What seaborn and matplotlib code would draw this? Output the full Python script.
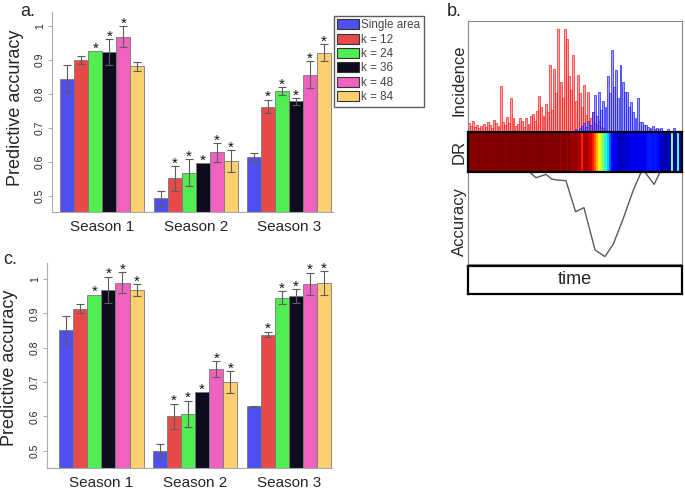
import numpy as np
import pandas as pd
import seaborn as sns
import matplotlib.pyplot as plt

models = ["Single area", "k = 12", "k = 24", "k = 36", "k = 48", "k = 84"]
seasons = ["Season 1", "Season 2", "Season 3"]
colors = ["#5050f0", "#e84a4a", "#50ee50", "#0c0c1e", "#f062c0", "#fcd070"]

# panel a: accuracy per season (one value per model), error, significance star
acc_a_s1 = [0.845, 0.900, 0.926, 0.923, 0.969, 0.881]
acc_a_s2 = [0.493, 0.552, 0.569, 0.596, 0.628, 0.603]
acc_a_s3 = [0.616, 0.763, 0.809, 0.778, 0.857, 0.921]
err_a_s1 = [0.040, 0.013, 0.0, 0.039, 0.031, 0.014]
err_a_s2 = [0.021, 0.036, 0.040, 0.0, 0.027, 0.032]
err_a_s3 = [0.010, 0.020, 0.011, 0.009, 0.040, 0.025]
star_a_s1 = [0, 0, 1, 1, 1, 0]
star_a_s2 = [0, 1, 1, 1, 1, 1]
star_a_s3 = [0, 1, 1, 1, 1, 1]

# panel c
acc_c_s1 = [0.852, 0.913, 0.954, 0.968, 0.989, 0.967]
acc_c_s2 = [0.500, 0.600, 0.607, 0.671, 0.738, 0.700]
acc_c_s3 = [0.629, 0.838, 0.945, 0.950, 0.986, 0.987]
err_c_s1 = [0.040, 0.013, 0.0, 0.039, 0.030, 0.017]
err_c_s2 = [0.019, 0.037, 0.039, 0.0, 0.022, 0.032]
err_c_s3 = [0.002, 0.008, 0.019, 0.020, 0.032, 0.035]
star_c_s1 = [0, 0, 1, 1, 1, 1]
star_c_s2 = [0, 1, 1, 1, 1, 1]
star_c_s3 = [0, 1, 1, 1, 1, 1]

# panel b: incidence of two regions over 100 time steps (percent of frame height)
inc_red = [8, 5, 10, 4, 6, 3, 5, 7, 4, 9, 6, 3, 11, 8, 5, 41, 9, 6, 13, 8,
           30, 12, 5, 7, 12, 10, 4, 12, 7, 14, 16, 10, 19, 32, 22, 14, 25, 18, 60, 20,
           57, 35, 93, 45, 30, 93, 84, 50, 38, 69, 28, 51, 35, 22, 42, 15, 36, 12, 18, 8,
           6, 10, 4, 3, 0, 0, 0, 0, 0, 0, 0, 0, 0, 0, 0, 0, 0, 0, 0, 0,
           0, 0, 0, 0, 0, 0, 0, 0, 0, 0, 0, 0, 0, 0, 0, 0, 0, 0, 0, 0]
inc_blue = [0, 0, 0, 0, 0, 0, 0, 0, 0, 0, 0, 0, 0, 0, 0, 0, 0, 0, 0, 0,
            0, 0, 0, 0, 0, 0, 0, 0, 0, 0, 0, 0, 0, 0, 0, 0, 0, 0, 0, 0,
            0, 0, 0, 0, 0, 0, 0, 0, 0, 0, 2, 0, 3, 5, 8, 4, 10, 6, 18, 33,
            14, 36, 20, 28, 22, 50, 35, 74, 40, 56, 30, 60, 45, 36, 36, 22, 27, 18, 12, 30,
            9, 9, 6, 6, 4, 3, 5, 2, 3, 2, 3, 1, 0, 2, 0, 0, 3, 0, 0, 0]
dr_values = [1.0, 1.0, 0.99, 1.0, 1.0, 1.0, 0.99, 1.0, 1.0, 1.0, 1.0, 0.99, 1.0, 1.0, 1.0, 1.0, 1.0, 0.99, 1.0, 1.0,
             1.0, 1.0, 1.0, 0.99, 1.0, 1.0, 1.0, 1.0, 1.0, 0.99, 1.0, 1.0, 1.0, 1.0, 1.0, 1.0, 0.99, 1.0, 1.0, 1.0,
             0.99, 1.0, 1.0, 0.98, 1.0, 1.0, 0.98, 1.0, 0.98, 0.97, 0.98, 0.97, 0.97, 0.88, 0.96, 0.97, 0.95, 0.92, 0.88, 0.8,
             0.72, 0.65, 0.58, 0.5, 0.4, 0.33, 0.22, 0.13, 0.1, 0.09, 0.07, 0.06, 0.06, 0.08, 0.06, 0.09, 0.1, 0.1, 0.09, 0.1,
             0.12, 0.1, 0.09, 0.13, 0.15, 0.15, 0.14, 0.15, 0.14, 0.12, 0.07, 0.05, 0.04, 0.05, 0.05, 0.52, 0.05, 0.04, 0.45, 0.05]
acc_time = [26.4, 31.5, 36.2, 38.8, 41.5, 45.5, 50.0, 53.9, 59.1, 63.7, 67.6, 72.3, 77.0, 81.3, 86.7, 90.2]
acc_line = [1.04, 0.935, 0.971, 0.921, 0.91, 0.903, 0.568, 0.612, 0.155, 0.083, 0.216, 0.496, 0.802, 1.03, 0.863, 1.03]

sns.set_theme(style="white")
plt.rcParams["font.family"] = ["Liberation Sans", "DejaVu Sans"]

W, H = 685, 496
fig = plt.figure(figsize=(W / 100, H / 100), dpi=100)


def fig_box(x0, y0, x1, y1):
    # pixel box -> figure fraction rect
    return [x0 / W, 1 - y1 / H, (x1 - x0) / W, (y1 - y0) / H]


def long_table(accs, errs, stars):
    rows = []
    for s, a, e, st in zip(seasons, accs, errs, stars):
        for m, av, ev, sv in zip(models, a, e, st):
            rows.append({"season": s, "model": m, "acc": av, "err": ev, "star": sv})
    return pd.DataFrame(rows)


def bar_panel(ax, df, ylim, xlim):
    sns.barplot(data=df, x="season", y="acc", hue="model", order=seasons, hue_order=models,
                palette=colors, saturation=1, width=0.9, errorbar=None, edgecolor="#777777",
                linewidth=0.6, ax=ax, legend=False)
    bar_conts = list(ax.containers)
    for j, cont in enumerate(bar_conts):
        sub = df[df["model"] == models[j]].set_index("season").loc[seasons]
        for bar, (acc, err, star) in zip(cont, sub[["acc", "err", "star"]].values):
            x = bar.get_x() + bar.get_width() / 2
            if err > 0:
                ax.errorbar(x, acc, yerr=err, color="#5c5c5c", lw=0.8, capsize=3.2, capthick=0.8)
            if star:
                ax.text(x, acc + err - 0.004, "*", ha="center", va="baseline", fontsize=11, color="#111111")
    ax.set_ylim(*ylim)
    ax.set_xlim(*xlim)
    ax.set_yticks([0.5, 0.6, 0.7, 0.8, 0.9, 1.0])
    ax.set_yticklabels(["0.5", "0.6", "0.7", "0.8", "0.9", "1"], rotation=90, va="center", fontsize=7.5)
    ax.tick_params(axis="y", length=3, width=0.6, color="#999999", pad=2, left=True)
    ax.tick_params(axis="x", length=0, labelsize=11, pad=6)
    ax.set_xlabel("")
    ax.set_ylabel("")
    for side in ["top", "right"]:
        ax.spines[side].set_visible(False)
    for side in ["left", "bottom"]:
        ax.spines[side].set_color("#aaaaaa")
        ax.spines[side].set_linewidth(0.8)
    return bar_conts


df_a = long_table([acc_a_s1, acc_a_s2, acc_a_s3], [err_a_s1, err_a_s2, err_a_s3], [star_a_s1, star_a_s2, star_a_s3])
df_c = long_table([acc_c_s1, acc_c_s2, acc_c_s3], [err_c_s1, err_c_s2, err_c_s3], [star_c_s1, star_c_s2, star_c_s3])

ax_a = fig.add_axes(fig_box(52, 12, 333, 212))
conts_a = bar_panel(ax_a, df_a, (0.4529, 1.0412), (-0.54, 2.47))
ax_c = fig.add_axes(fig_box(47, 263, 332, 468))
bar_panel(ax_c, df_c, (0.4496, 1.0466), (-0.58, 2.46))

# legend next to panel a
leg = fig.legend([c[0] for c in conts_a], models, loc="upper left",
                 bbox_to_anchor=(333.5 / W, 1 - 15.7 / H), bbox_transform=fig.transFigure,
                 fontsize=8.4, handlelength=1.9, handleheight=0.95, handletextpad=0.15,
                 labelspacing=0.2, borderpad=0.3, borderaxespad=0, fancybox=False, frameon=True)
leg.get_frame().set_edgecolor("#333333")
leg.get_frame().set_linewidth(1.0)
for txt in leg.get_texts():
    txt.set_color("#444444")
for p in leg.get_patches():
    p.set_edgecolor("#333333")
    p.set_linewidth(0.8)

# panel b
t = np.arange(len(inc_red))
ax_inc = fig.add_axes(fig_box(467.5, 21, 681.5, 131.7))
ax_inc.bar(t, inc_red, width=0.9, color=(1, 0.1, 0.1, 0.4), edgecolor=(1, 0.15, 0.15, 0.85), linewidth=0.6)
ax_inc.bar(t, inc_blue, width=0.9, color=(0.1, 0.1, 1, 0.4), edgecolor=(0.15, 0.15, 1, 0.85), linewidth=0.6)
ax_inc.set_xlim(-0.5, len(t) - 0.5)
ax_inc.set_ylim(0, 100)

ax_dr = fig.add_axes(fig_box(467.5, 131.7, 681.5, 171.7))
sns.heatmap(np.array([dr_values]), ax=ax_dr, cmap="jet", vmin=0, vmax=1, cbar=False,
            xticklabels=False, yticklabels=False)

ax_acc = fig.add_axes(fig_box(467.5, 171.7, 681.5, 264.3))
ax_acc.plot(acc_time, acc_line, color="#5a5a5a", lw=1.0)
ax_acc.set_xlim(-0.5, len(t) - 0.5)
ax_acc.set_ylim(0, 1)

ax_time = fig.add_axes(fig_box(467.5, 266, 681.5, 294))
ax_time.text(0.5, 0.5, "time", ha="center", va="center", fontsize=13, transform=ax_time.transAxes)

for ax in [ax_inc, ax_dr, ax_acc, ax_time]:
    ax.set_xticks([])
    ax.set_yticks([])
    ax.set_xlabel("")
    ax.set_ylabel("")
for ax in [ax_inc, ax_acc]:
    for sp in ax.spines.values():
        sp.set_visible(True)
        sp.set_color("#888888")
        sp.set_linewidth(0.8)
ax_inc.spines["bottom"].set_visible(False)
ax_acc.spines["top"].set_visible(False)
for ax in [ax_dr, ax_time]:
    for sp in ax.spines.values():
        sp.set_visible(True)
        sp.set_color("black")
        sp.set_linewidth(1.6)
ax_dr.set_zorder(3)

# labels
fig.text(16 / W, 1 - 108 / H, "Predictive accuracy", rotation=90, ha="center", va="center", fontsize=13)
fig.text(9.5 / W, 1 - 368 / H, "Predictive accuracy", rotation=90, ha="center", va="center", fontsize=13)
fig.text(459 / W, 1 - 80 / H, "Incidence", rotation=90, ha="center", va="center", fontsize=12)
fig.text(459 / W, 1 - 152 / H, "DR", rotation=90, ha="center", va="center", fontsize=12)
fig.text(459 / W, 1 - 222 / H, "Accuracy", rotation=90, ha="center", va="center", fontsize=12)
fig.text(20 / W, 1 - 11 / H, "a.", ha="left", va="center", fontsize=13)
fig.text(447 / W, 1 - 12 / H, "b.", ha="left", va="center", fontsize=13)
fig.text(3 / W, 1 - 260 / H, "c.", ha="left", va="center", fontsize=13)

fig.savefig("out.png", dpi=100)
